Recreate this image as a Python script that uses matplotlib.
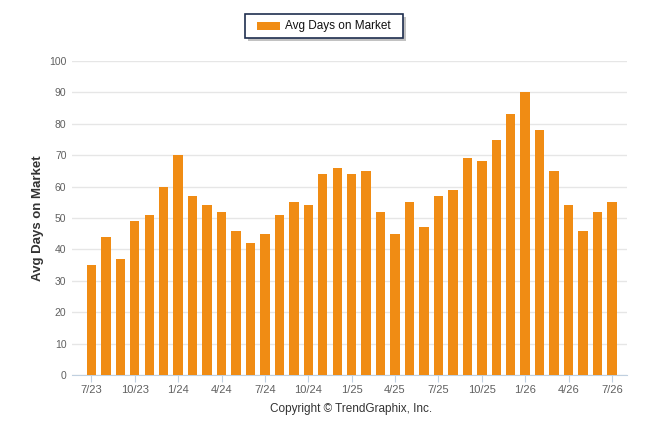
import numpy as np
import matplotlib.pyplot as plt
from matplotlib.patches import Rectangle

months = ['7/23', '8/23', '9/23', '10/23', '11/23', '12/23',
          '1/24', '2/24', '3/24', '4/24', '5/24', '6/24',
          '7/24', '8/24', '9/24', '10/24', '11/24', '12/24',
          '1/25', '2/25', '3/25', '4/25', '5/25', '6/25',
          '7/25', '8/25', '9/25', '10/25', '11/25', '12/25',
          '1/26', '2/26', '3/26', '4/26', '5/26', '6/26', '7/26']
days_on_market = [35, 44, 37, 49, 51, 60,
                  70, 57, 54, 52, 46, 42,
                  45, 51, 55, 54, 64, 66,
                  64, 65, 52, 45, 55, 47,
                  57, 59, 69, 68, 75, 83,
                  90, 78, 65, 54, 46, 52, 55]
yticks = list(range(0, 101, 10))

bar_color = '#F08C14'
tick_color = '#606060'
font = ['Liberation Sans', 'DejaVu Sans']

fig = plt.figure(figsize=(6.46, 4.34), dpi=100)
ax = fig.add_axes([72 / 646, 1 - 375 / 434, 555 / 646, 314 / 434])

x = np.arange(len(months))
ax.bar(x, days_on_market, width=0.65, color=bar_color, zorder=3)

ax.set_xlim(-1.34, len(months) + 0.04)
ax.set_ylim(0, 100)
ax.set_yticks(yticks)
ax.set_yticklabels([str(v) for v in yticks], fontsize=7.5, color=tick_color, family=font)
ax.tick_params(axis='y', length=0, pad=4)

ax.set_xticks(x[::3])
ax.set_xticklabels(months[::3], fontsize=8, color=tick_color, family=font)
ax.tick_params(axis='x', length=5, color='#C0D0E0', pad=2)

ax.grid(axis='y', color='#E6E6E6', linewidth=1, zorder=0)
for s in ['top', 'right', 'left']:
    ax.spines[s].set_visible(False)
ax.spines['bottom'].set_color('#C0D0E0')

fig.text(38 / 646, 1 - 218 / 434, 'Avg Days on Market', rotation=90,
         ha='center', va='center', fontsize=9.5, fontweight='bold',
         color='#333333', family=font)

fig.text(351 / 646, 1 - 409 / 434, 'Copyright \u00a9 TrendGraphix, Inc.',
         ha='center', va='center', fontsize=8.5, color='#333333', family=font)

# legend box with shadow
shadow = Rectangle((248 / 646, 1 - 41 / 434), 158 / 646, 24 / 434,
                   transform=fig.transFigure, facecolor='#9A9A9A', edgecolor='none', alpha=0.6)
box = Rectangle((245 / 646, 1 - 38 / 434), 158 / 646, 24 / 434,
                transform=fig.transFigure, facecolor='white', edgecolor='#1F2F4F', linewidth=1.2)
fig.patches.extend([shadow, box])
swatch = Rectangle((257 / 646, 1 - 30 / 434), 23 / 646, 8 / 434,
                   transform=fig.transFigure, facecolor=bar_color, edgecolor='none')
fig.patches.append(swatch)
fig.text(285 / 646, 1 - 26 / 434, 'Avg Days on Market', ha='left', va='center',
         fontsize=8.5, color='#111111', family=font)

fig.savefig('out.png', dpi=100)
